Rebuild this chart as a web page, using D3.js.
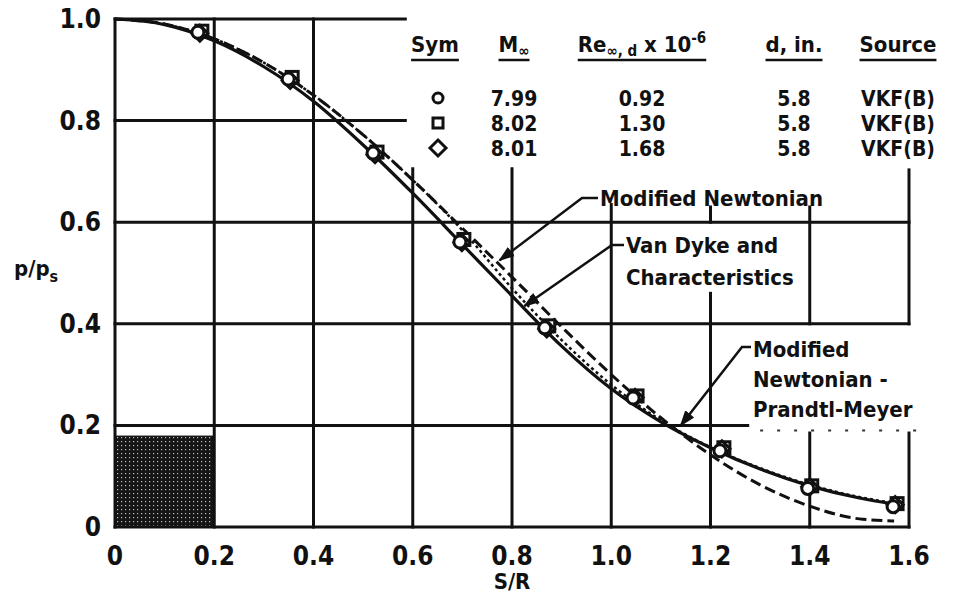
<!DOCTYPE html>
<html>
<head>
<meta charset="utf-8">
<script src="https://cdn.jsdelivr.net/npm/d3@7"></script>
<style>
  body { margin: 0; background: #fff; }
  svg text { font-family: "Liberation Sans Narrow", "DejaVu Sans Condensed", "Arial Narrow", sans-serif; font-weight: bold; fill: #111; }
</style>
</head>
<body>
<div id="chart" style="width:954px;height:605px;"></div>
<script>
// --- data ---
var xTicks = [0, 0.2, 0.4, 0.6, 0.8, 1.0, 1.2, 1.4, 1.6];
var xTickLabels = ["0", "0.2", "0.4", "0.6", "0.8", "1.0", "1.2", "1.4", "1.6"];
var yTicks = [0, 0.2, 0.4, 0.6, 0.8, 1.0];
var yTickLabels = ["0", "0.2", "0.4", "0.6", "0.8", "1.0"];

// theory curves, S/R vs p/ps
var curveSR = [0, 0.1, 0.2, 0.3, 0.4, 0.5, 0.6, 0.7, 0.8, 0.9, 1.0, 1.1, 1.2, 1.3, 1.4, 1.5, 1.57];
var modNewtonian = [1.0, 0.990, 0.961, 0.914, 0.850, 0.772, 0.683, 0.588, 0.492, 0.394, 0.300, 0.215, 0.142, 0.083, 0.041, 0.016, 0.012];
var vanDyke = [1.0, 0.989, 0.957, 0.906, 0.838, 0.752, 0.657, 0.556, 0.455, 0.356, 0.272, 0.207, 0.156, 0.114, 0.081, 0.057, 0.045];
var newtPM = [1.0, 0.990, 0.961, 0.914, 0.850, 0.772, 0.683, 0.584, 0.470, 0.368, 0.280, 0.210, 0.157, 0.116, 0.083, 0.059, 0.047];

// VKF(B) data
var circleSR = [0.167, 0.349, 0.520, 0.695, 0.866, 1.044, 1.219, 1.396, 1.568];
var circleP = [0.974, 0.882, 0.736, 0.561, 0.392, 0.254, 0.150, 0.076, 0.040];
var squareSR = [0.175, 0.357, 0.528, 0.703, 0.874, 1.052, 1.227, 1.404, 1.576];
var squareP = [0.976, 0.885, 0.738, 0.566, 0.396, 0.258, 0.156, 0.081, 0.046];
var diamondSR = [0.171, 0.353, 0.524, 0.699, 0.870, 1.048, 1.223, 1.400, 1.572];
var diamondP = [0.972, 0.879, 0.733, 0.560, 0.390, 0.255, 0.154, 0.079, 0.044];

var legendSym = ["circle", "square", "diamond"];
var legendMach = ["7.99", "8.02", "8.01"];
var legendRe = ["0.92", "1.30", "1.68"];
var legendD = ["5.8", "5.8", "5.8"];
var legendSource = ["VKF(B)", "VKF(B)", "VKF(B)"];

// grid pieces (data units) - the figure leaves gaps for the legend and labels
var vGrid = [[0, 0, 1], [0.2, 0, 1], [0.4, 0, 1], [0.6, 0, 0.705], [0.8, 0, 0.705],
             [1.0, 0, 0.635], [1.2, 0, 0.46], [1.2, 0.6, 0.63], [1.4, 0, 0.185], [1.4, 0.4, 0.63],
             [1.6, 0, 0.185], [1.6, 0.4, 0.703]];
var hGrid = [[0, 0, 1.6], [0.2, 0, 1.275], [0.4, 0, 1.6], [0.6, 0, 1.6], [0.8, 0, 0.585], [1.0, 0, 0.585]];

var chartDiv = document.getElementById("chart");
var width = 954, height = 605;

var svg = d3.select(chartDiv).append("svg")
    .attr("width", width)
    .attr("height", height);

var x = d3.scaleLinear().domain([0, 1.6]).range([115, 909]);
var y = d3.scaleLinear().domain([0, 1]).range([527, 19]);

var defs = svg.append("defs");
var pat = defs.append("pattern")
    .attr("id", "screen")
    .attr("width", 4).attr("height", 4)
    .attr("patternUnits", "userSpaceOnUse");
pat.append("rect").attr("width", 4).attr("height", 4).attr("fill", "#151515");
pat.append("rect").attr("x", 1).attr("y", 1).attr("width", 1.2).attr("height", 1.2).attr("fill", "#bbb");

var marker = defs.append("marker")
    .attr("id", "arrow")
    .attr("viewBox", "0 0 10 10")
    .attr("refX", 9).attr("refY", 5)
    .attr("markerWidth", 6.5).attr("markerHeight", 6.5)
    .attr("orient", "auto");
marker.append("path").attr("d", "M0,1.5 L10,5 L0,8.5 Z").attr("fill", "#111");

// screened block in the corner
svg.append("rect")
    .attr("x", x(0)).attr("y", y(0.18))
    .attr("width", x(0.2) - x(0)).attr("height", y(0) - y(0.18))
    .attr("fill", "url(#screen)");

var grid = svg.append("g").attr("stroke", "#111").attr("stroke-width", 3).attr("stroke-linecap", "square");
grid.selectAll(".v").data(vGrid).enter().append("line")
    .attr("x1", function(d) { return x(d[0]); })
    .attr("x2", function(d) { return x(d[0]); })
    .attr("y1", function(d) { return y(d[1]); })
    .attr("y2", function(d) { return y(d[2]); });
grid.selectAll(".h").data(hGrid).enter().append("line")
    .attr("y1", function(d) { return y(d[0]); })
    .attr("y2", function(d) { return y(d[0]); })
    .attr("x1", function(d) { return x(d[1]); })
    .attr("x2", function(d) { return x(d[2]); });
// faint broken continuation of the 0.2 line
svg.append("line")
    .attr("x1", x(1.3)).attr("x2", x(1.62))
    .attr("y1", y(0.19)).attr("y2", y(0.19))
    .attr("stroke", "#333").attr("stroke-width", 2).attr("stroke-dasharray", "3,14");

// tick labels
svg.selectAll(".xt").data(xTicks).enter().append("text")
    .attr("x", function(d) { return x(d); })
    .attr("y", 565)
    .attr("text-anchor", "middle")
    .attr("font-size", 26)
    .text(function(d, i) { return xTickLabels[i]; });
svg.selectAll(".yt").data(yTicks).enter().append("text")
    .attr("x", 101)
    .attr("y", function(d) { return y(d) + 9; })
    .attr("text-anchor", "end")
    .attr("font-size", 26)
    .text(function(d, i) { return yTickLabels[i]; });

svg.append("text").attr("x", x(0.8)).attr("y", 589).attr("text-anchor", "middle")
    .attr("font-size", 22).text("S/R");
var yt = svg.append("text").attr("x", 14).attr("y", 276).attr("font-size", 22);
yt.append("tspan").text("p/p");
yt.append("tspan").attr("font-size", 16).attr("dy", 6).text("s");

// curves
var line = d3.line().curve(d3.curveMonotoneX);
function curvePts(vals) { return curveSR.map(function(s, i) { return [x(s), y(vals[i])]; }); }

svg.append("path").attr("d", line(curvePts(newtPM)))
    .attr("fill", "none").attr("stroke", "#111").attr("stroke-width", 2.5).attr("stroke-dasharray", "3,3");
svg.append("path").attr("d", line(curvePts(modNewtonian)))
    .attr("fill", "none").attr("stroke", "#111").attr("stroke-width", 3).attr("stroke-dasharray", "11,5");
svg.append("path").attr("d", line(curvePts(vanDyke)))
    .attr("fill", "none").attr("stroke", "#111").attr("stroke-width", 3.2);

// symbols
var sym = svg.append("g").attr("fill", "#fff").attr("stroke", "#111").attr("stroke-width", 3);
sym.selectAll(".sq").data(squareSR).enter().append("rect")
    .attr("x", function(d) { return x(d) - 6; })
    .attr("y", function(d, i) { return y(squareP[i]) - 6; })
    .attr("width", 12).attr("height", 12);
sym.selectAll(".dm").data(diamondSR).enter().append("path")
    .attr("d", function(d, i) { var cx = x(d), cy = y(diamondP[i]); return "M" + cx + "," + (cy - 8) + "L" + (cx + 8) + "," + cy + "L" + cx + "," + (cy + 8) + "L" + (cx - 8) + "," + cy + "Z"; });
sym.selectAll(".ci").data(circleSR).enter().append("circle")
    .attr("cx", function(d) { return x(d); })
    .attr("cy", function(d, i) { return y(circleP[i]); })
    .attr("r", 6);

// legend table
var lg = svg.append("g");
var cols = [435, 514, 642, 794, 898];
function header(cx, build) {
    var t = lg.append("text").attr("x", cx).attr("y", 52).attr("text-anchor", "middle").attr("font-size", 22);
    build(t);
    var bb = t.node().getBBox();
    lg.append("line").attr("x1", bb.x).attr("x2", bb.x + bb.width).attr("y1", 60).attr("y2", 60)
        .attr("stroke", "#111").attr("stroke-width", 2.5);
}
header(cols[0], function(t) { t.text("Sym"); });
header(cols[1], function(t) { t.append("tspan").text("M"); t.append("tspan").attr("font-size", 15).attr("dy", 4).text("\u221e"); });
header(cols[2], function(t) {
    t.append("tspan").text("Re");
    t.append("tspan").attr("font-size", 15).attr("dy", 4).text("\u221e, d");
    t.append("tspan").attr("dy", -4).text(" x 10");
    t.append("tspan").attr("font-size", 15).attr("dy", -9).text("-6");
});
header(cols[3], function(t) { t.text("d, in."); });
header(cols[4], function(t) { t.text("Source"); });

var rowY = [106, 131, 156];
var symG = lg.append("g").attr("fill", "#fff").attr("stroke", "#111").attr("stroke-width", 3);
legendSym.forEach(function(s, i) {
    var cx = cols[0] + 3, cy = rowY[i] - 8;
    if (s === "circle") symG.append("circle").attr("cx", cx).attr("cy", cy).attr("r", 5);
    if (s === "square") symG.append("rect").attr("x", cx - 5).attr("y", cy - 5).attr("width", 10).attr("height", 10);
    if (s === "diamond") symG.append("path").attr("d", "M" + cx + "," + (cy - 8) + "L" + (cx + 8) + "," + cy + "L" + cx + "," + (cy + 8) + "L" + (cx - 8) + "," + cy + "Z");
});
[legendMach, legendRe, legendD, legendSource].forEach(function(arr, c) {
    lg.selectAll(null).data(arr).enter().append("text")
        .attr("x", cols[c + 1]).attr("y", function(d, i) { return rowY[i]; })
        .attr("text-anchor", "middle").attr("font-size", 21)
        .text(function(d) { return d; });
});

// annotations with leaders
var ann = svg.append("g");
function label(lines, tx, ty, gap) {
    lines.forEach(function(s, i) {
        ann.append("text").attr("x", tx).attr("y", ty + i * gap).attr("font-size", 22).text(s);
    });
}
function leader(pts) {
    ann.append("path").attr("d", d3.line()(pts)).attr("fill", "none")
        .attr("stroke", "#111").attr("stroke-width", 2.5).attr("marker-end", "url(#arrow)");
}
label(["Modified Newtonian"], 600, 206, 0);
leader([[598, 198], [582, 198], [x(0.775), y(0.525)]]);
label(["Van Dyke and", "Characteristics"], 626, 253, 32);
leader([[624, 245], [612, 245], [x(0.825), y(0.435)]]);
label(["Modified", "Newtonian -", "Prandtl-Meyer"], 753, 357, 30);
leader([[751, 347], [742, 347], [x(1.14), y(0.2)]]);
</script>
</body>
</html>
